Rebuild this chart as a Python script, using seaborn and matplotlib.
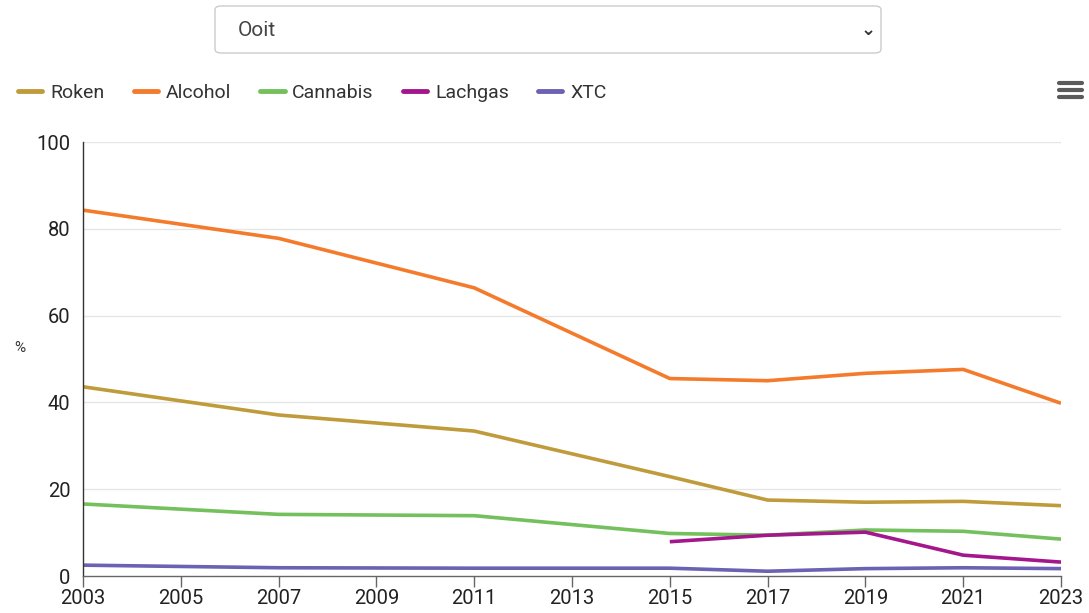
import numpy as np
import pandas as pd
import seaborn as sns
import matplotlib
matplotlib.use("Agg")
import matplotlib.pyplot as plt
from matplotlib.patches import FancyBboxPatch
from matplotlib.lines import Line2D

# --- data ---
YEARS = [2003, 2007, 2011, 2015, 2017, 2019, 2021, 2023]
ROKEN = [43.6, 37.1, 33.4, 22.9, 17.5, 17.0, 17.2, 16.2]
ALCOHOL = [84.3, 77.8, 66.4, 45.5, 45.0, 46.7, 47.6, 39.8]
CANNABIS = [16.6, 14.2, 13.9, 9.8, 9.4, 10.6, 10.3, 8.5]
LACHGAS = [np.nan, np.nan, np.nan, 7.9, 9.4, 10.1, 4.8, 3.2]
XTC = [2.5, 1.9, 1.8, 1.8, 1.1, 1.7, 1.9, 1.7]

SERIES = ["Roken", "Alcohol", "Cannabis", "Lachgas", "XTC"]
COLORS = ["#bf9b3b", "#f47b2b", "#74c05c", "#a3168c", "#6b62b3"]
X_TICKS = list(range(2003, 2024, 2))
Y_TICKS = [0, 20, 40, 60, 80, 100]
DROPDOWN_TEXT = "Ooit"

df = pd.DataFrame({"jaar": YEARS, "Roken": ROKEN, "Alcohol": ALCOHOL,
                   "Cannabis": CANNABIS, "Lachgas": LACHGAS, "XTC": XTC})
long = df.melt(id_vars="jaar", var_name="middel", value_name="pct")

sns.set_theme(style="white")
plt.rcParams["font.family"] = ["Roboto", "DejaVu Sans"]

fig = plt.figure(figsize=(10.89, 6.13), dpi=100)
ax = fig.add_axes([83 / 1089, 1 - 576 / 613, (1061 - 83) / 1089, (576 - 142) / 613])

sns.lineplot(data=long, x="jaar", y="pct", hue="middel", hue_order=SERIES,
             palette=COLORS, linewidth=2.6, legend=False, ax=ax,
             solid_capstyle="butt")

ax.set_xlim(2003, 2023)
ax.set_ylim(0, 100)
ax.set_xticks(X_TICKS)
ax.set_xticklabels([str(x) for x in X_TICKS], fontsize=14.5, color="#222222")
ax.set_yticks(Y_TICKS)
ax.set_yticklabels([str(y) for y in Y_TICKS], fontsize=14.5, color="#222222")
for y in Y_TICKS[1:]:
    ax.axhline(y, color="#e6e6e6", lw=1, zorder=0)

for s in ["top", "right"]:
    ax.spines[s].set_visible(False)
ax.spines["left"].set_color("#333333")
ax.spines["bottom"].set_color("#666666")
ax.spines["left"].set_linewidth(1)
ax.spines["bottom"].set_linewidth(1)
ax.tick_params(axis="x", length=8, width=1, color="#666666", pad=1, bottom=True)
ax.tick_params(axis="y", length=0, pad=9)
ax.set_xlabel("")
ax.set_ylabel("%", rotation=0, fontsize=11, color="#333333", labelpad=0)
ax.yaxis.set_label_coords(-0.065, 0.51)

# legend row
handles = [Line2D([0], [0], color=c, lw=3.5, solid_capstyle="round") for c in COLORS]
fig.legend(handles, SERIES, loc="center left", bbox_to_anchor=(0.0095, 1 - 92.5 / 613),
           ncol=5, frameon=False, fontsize=14, handlelength=1.25, handletextpad=0.4,
           columnspacing=1.5, labelcolor="#333333", borderaxespad=0)

# dropdown box at the top
box = FancyBboxPatch((215 / 1089, 1 - 53 / 613), (881 - 215) / 1089, 47 / 613,
                     boxstyle="round,pad=0,rounding_size=0.006", transform=fig.transFigure,
                     facecolor="white", edgecolor="#cccccc", lw=1)
fig.patches.append(box)
fig.text(238 / 1089, 1 - 30 / 613, DROPDOWN_TEXT, fontsize=15, color="#444444", va="center")
fig.text(868 / 1089, 1 - 30 / 613, "\u2304", fontsize=13, color="#333333",
         va="center", ha="center", family=["DejaVu Sans"], fontweight="bold")

# hamburger menu icon
for yy in (83, 90, 97):
    fig.add_artist(Line2D([1059 / 1089, 1082 / 1089], [1 - yy / 613] * 2, color="#5a5a5a",
                          lw=3, solid_capstyle="round", transform=fig.transFigure))

fig.savefig("out.png", dpi=100)
